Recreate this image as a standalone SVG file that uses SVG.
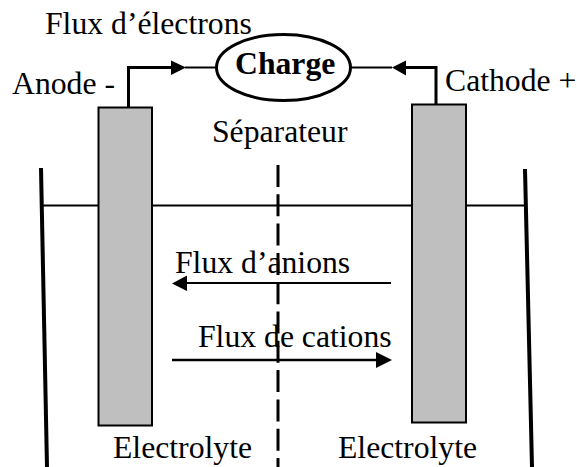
<svg xmlns="http://www.w3.org/2000/svg" width="577" height="467" viewBox="0 0 577 467">
<style>
text{font-family:"Liberation Serif","Times New Roman",serif;font-size:31.700px;fill:#000}
.el{fill:#bfbfbf;stroke:#000;stroke-width:2}
.wall{fill:none;stroke:#000;stroke-width:4}
.thin{fill:none;stroke:#000;stroke-width:2}
.wire{fill:none;stroke:#000;stroke-width:3}
.head{fill:#000;stroke:none}
.sep{fill:none;stroke:#000;stroke-width:3;stroke-dasharray:22 7.300}
</style>
<rect width="577" height="467" fill="#fff"/>
<g id="labels-under">
<text x="175" y="273">Flux d’anions</text>
<text x="198" y="347">Flux de cations</text>
</g>
<g id="connectors">
<path class="thin" d="M43 205.500H525"/>
<path class="wall" d="M41 168L47 467"/>
<path class="wall" d="M525 169L532 467"/>
<path class="sep" d="M278 165V467"/>
<path class="wire" d="M128.500 108V67.500H172"/>
<path class="thin" d="M185 67.500H217"/>
<polygon class="head" points="171,60.500 186,67.500 171,75"/>
<path class="wire" d="M436 105V67.500H405"/>
<path class="thin" d="M392 67.500H351"/>
<polygon class="head" points="392,67.500 406,60.500 406,75.500"/>
<path class="thin" d="M391 283H186"/>
<polygon class="head" points="172,283.500 187,275.500 187,291"/>
<path class="thin" d="M172 360H378" style="stroke-width:2.500"/>
<polygon class="head" points="392,360 376,352 376,368"/>
</g>
<g id="anode"><rect class="el" x="98.500" y="107.500" width="53.500" height="318"/><text x="12" y="94">Anode -</text></g>
<g id="cathode"><rect class="el" x="412" y="104.500" width="54" height="318"/><text x="445" y="91">Cathode +</text></g>
<g id="charge"><ellipse cx="283.500" cy="67.500" rx="67" ry="33" fill="#fff" stroke="#000" stroke-width="3"/><text x="235" y="74" style="font-weight:bold">Charge</text></g>
<g id="labels">
<text x="45" y="34">Flux d’électrons</text>
<text x="212" y="141.500">Séparateur</text>
<text x="113" y="458">Electrolyte</text>
<text x="338" y="458">Electrolyte</text>
</g>
</svg>
